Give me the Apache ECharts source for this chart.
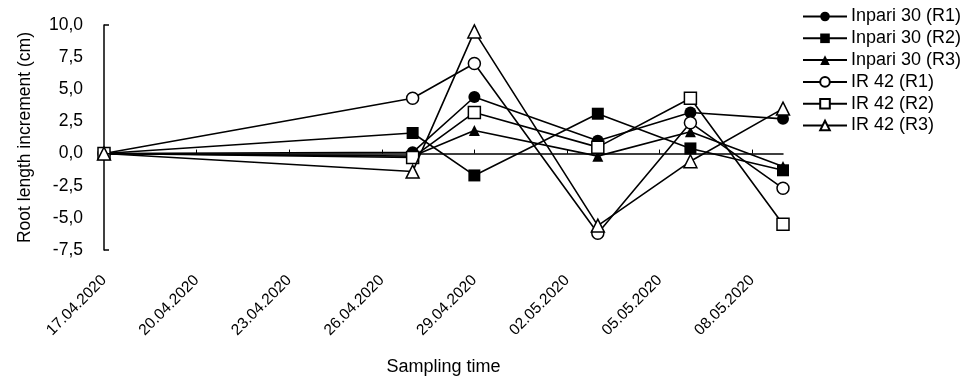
<!DOCTYPE html>
<html>
<head>
<meta charset="utf-8">
<script src="https://cdn.jsdelivr.net/npm/echarts@6/dist/echarts.min.js"></script>
<style>html,body{margin:0;padding:0;background:#fff;}#c{width:966px;height:379px;}</style>
</head>
<body>
<div id="c"></div>
<script>
const sampleDates = ['17.04.2020','27.04.2020','29.04.2020','03.05.2020','06.05.2020','09.05.2020'];
const tickLabels = ['17.04.2020','20.04.2020','23.04.2020','26.04.2020','29.04.2020','02.05.2020','05.05.2020','08.05.2020'];
const seriesNames = ['Inpari 30 (R1)','Inpari 30 (R2)','Inpari 30 (R3)','IR 42 (R1)','IR 42 (R2)','IR 42 (R3)'];
const inpari30R1 = [0, 0.1, 4.4, 1.0, 3.2, 2.7];
const inpari30R2 = [0, 1.6, -1.7, 3.1, 0.4, -1.3];
const inpari30R3 = [0, -0.2, 1.8, -0.2, 1.7, -1.0];
const ir42R1 = [0, 4.3, 7.0, -6.2, 2.4, -2.7];
const ir42R2 = [0, -0.3, 3.2, 0.5, 4.3, -5.5];
const ir42R3 = [0, -1.4, 9.5, -5.6, -0.6, 3.5];
const yTicks = [-7.5, 10];

function dayOf(s){const p=s.split('.').map(Number);return (Date.UTC(p[2],p[1]-1,p[0])-Date.UTC(2020,3,17))/86400000;}
function dateOf(d){const t=new Date(Date.UTC(2020,3,17)+d*86400000);const dd=String(t.getUTCDate()).padStart(2,'0');const mm=String(t.getUTCMonth()+1).padStart(2,'0');return dd+'.'+mm+'.'+t.getUTCFullYear();}
const xDays = sampleDates.map(dayOf);
const labelDays = tickLabels.map(dayOf);
const xMax = xDays[xDays.length-1];

const values = [inpari30R1, inpari30R2, inpari30R3, ir42R1, ir42R2, ir42R3];
const symbols = ['circle','rect','triangle','circle','rect','triangle'];
const filled = [true,true,true,false,false,false];
const sizes = [12,12,11,12,12,13];

const font = 'Liberation Sans, Arial, Helvetica, sans-serif';
const chart = echarts.init(document.getElementById('c'));
chart.setOption({
  animation:false,
  backgroundColor:'#fff',
  grid:{left:104, top:25, width:679, height:225, outerBoundsMode:'none', containLabel:false},
  legend:{
    orient:'vertical', left:797, top:2.5, itemWidth:44, itemHeight:12, itemGap:3.8,
    textStyle:{fontFamily:font, fontSize:18, color:'#000', padding:[0,0,0,-1]},
    data:seriesNames
  },
  xAxis:[{
    type:'value', min:0, max:xMax, interval:3,
    axisLine:{onZero:true, lineStyle:{color:'#000', width:1.5}},
    axisTick:{show:true, inside:true, length:4, lineStyle:{color:'#000', width:1}, customValues:labelDays.slice(1)},
    axisLabel:{show:false}, splitLine:{show:false}
  },{
    type:'value', min:0, max:xMax, interval:3, position:'bottom',
    axisLine:{show:false, onZero:false}, axisTick:{show:false}, splitLine:{show:false},
    axisLabel:{show:true, rotate:45, margin:28, fontFamily:font, fontSize:15.5, color:'#000',
      customValues:labelDays,
      formatter:function(v){return labelDays.indexOf(v)>=0?dateOf(v):'';}},
    name:'Sampling time', nameLocation:'middle', nameGap:108,
    nameTextStyle:{fontFamily:font, fontSize:18, color:'#000'}
  }],
  yAxis:{
    type:'value', min:-7.5, max:10, interval:2.5,
    axisLine:{show:true, onZero:false, lineStyle:{color:'#000', width:1.5}},
    axisTick:{show:true, inside:true, length:5, lineStyle:{color:'#000', width:1.5}, customValues:yTicks},
    axisLabel:{margin:21, fontFamily:font, fontSize:17.5, color:'#000',
      formatter:function(v){return v.toFixed(1).replace('.',',');}},
    splitLine:{show:false},
    name:'Root length increment (cm)', nameLocation:'middle', nameGap:70,
    nameTextStyle:{fontFamily:font, fontSize:17.5, color:'#000'}
  },
  series: seriesNames.map(function(n,i){
    return {
      name:n, type:'line', xAxisIndex:0,
      data: xDays.map(function(d,j){return [d, values[i][j]];}),
      symbol:symbols[i], symbolSize:sizes[i], showAllSymbol:true,
      lineStyle:{color:'#000', width:1.6},
      itemStyle:{color: filled[i] ? '#000' : '#fff', borderColor:'#000', borderWidth: filled[i]?0:1.5},
      z: 2+i
    };
  })
});
</script>
</body>
</html>
